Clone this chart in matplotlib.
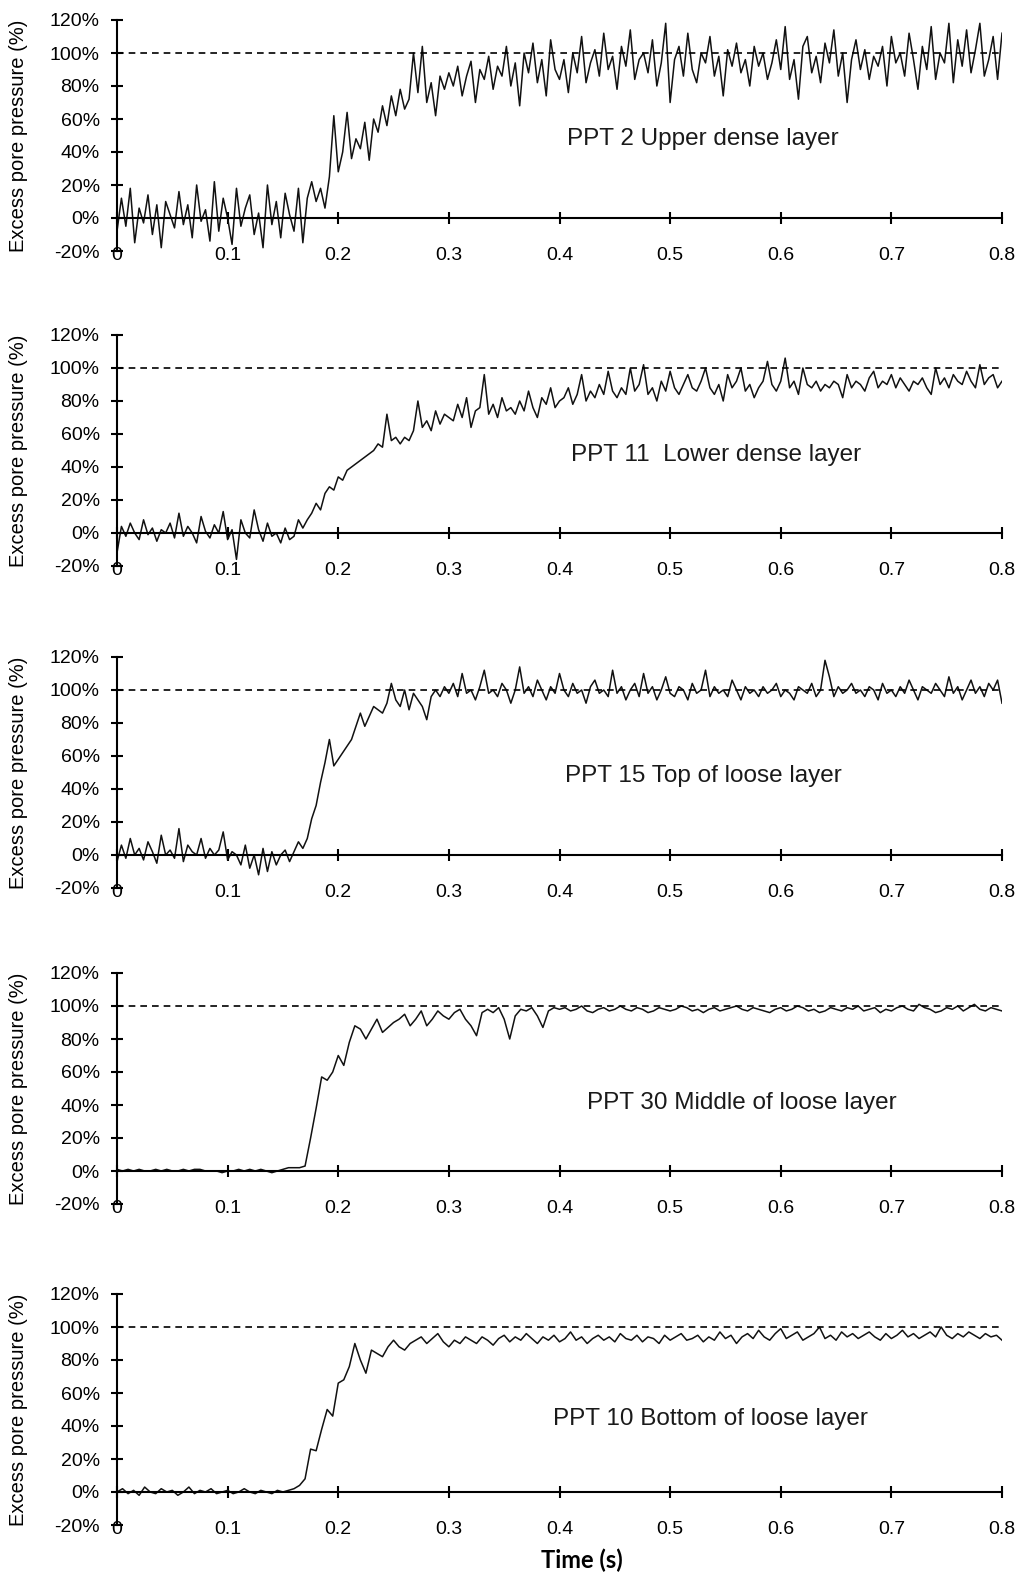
import matplotlib.pyplot as plt
import numpy as np

plt.rcParams['font.family'] = ['Liberation Sans', 'DejaVu Sans']

# sample times (s)
t_fine = np.arange(201) * 0.004
t_coarse = np.arange(161) * 0.005

# excess pore pressure (%) per transducer
ppt2 = [
    -8, 12, -5, 18, -15, 6, -3, 14, -10, 8,
    -18, 10, 2, -6, 16, -4, 8, -12, 20, -2,
    5, -14, 22, -8, 12, 0, -16, 18, -5, 6,
    14, -10, 3, -18, 20, -4, 10, -12, 15, 2,
    -8, 18, -15, 12, 22,
    10, 18, 6, 25, 62, 28, 40, 64, 36, 48,
    42, 58, 35, 60, 52, 68, 56, 74, 62, 78,
    66, 72, 100, 76, 104, 70, 82, 62, 86, 78,
    88, 80, 92, 74, 86, 95, 70, 90, 84, 98,
    78, 92, 86, 104, 80, 94, 68, 100, 88, 106,
    82, 96, 74, 108, 90, 84,
    96, 76, 100, 88, 110, 82, 94, 102, 86, 112,
    90, 98, 78, 104, 92, 114, 84, 96, 100, 88,
    108, 80, 94, 118, 70, 96, 104, 86, 112, 90,
    82, 100, 94, 110, 86, 98, 74, 102, 92, 106,
    88, 96, 80, 104, 92, 100, 84, 94, 108, 90,
    116, 84, 96, 72, 104, 110, 88, 98, 82, 106,
    94, 114, 86, 100, 70, 96, 108, 90, 102, 84,
    98, 92, 104, 80, 110, 94, 100, 86, 112, 96,
    78, 104, 90, 116, 84, 100, 94, 118, 82, 108,
    92, 114, 88, 102, 118, 86, 96, 110, 84, 112,
]

ppt11 = [
    -12, 4, -2, 6, 0, -4, 8, -1, 3, -5,
    2, 0, 6, -3, 12, -2, 4, 0, -6, 10,
    1, -3, 5, 0, 13, -4, 2, -16, 8, 0,
    -3, 14, 2, -5, 6, -2, 0, -6, 3, -4,
    -2, 8,
    3, 8, 12, 18, 14, 24, 28, 26, 34, 32,
    38, 40, 42, 44, 46, 48, 50, 54, 52, 72,
    56, 58, 54, 58, 56, 62, 80, 64, 68, 62,
    74, 66, 72, 70,
    68, 78, 70, 82, 64, 74, 76, 96, 72, 78,
    70, 82, 74, 76, 72, 80, 74, 86, 76, 70,
    82, 78, 88, 76, 80,
    82, 88, 78, 84, 96, 80, 86, 82, 90, 84,
    98, 86, 82, 88, 84, 100, 86, 90, 102, 84,
    88, 80, 92, 86, 98, 88, 84, 90, 96, 88,
    86, 92, 100, 88, 84, 90, 80, 96, 88, 92,
    100, 86, 90, 82, 88, 92, 104, 90, 86, 92,
    106, 88, 92, 84, 100, 90, 88, 92, 86, 90,
    88, 92, 90, 82, 96, 88, 92, 90, 86, 94,
    98, 88, 92, 90, 96, 88, 94, 90, 86, 92,
    90, 94, 88, 84, 100, 90, 94, 88, 96, 92,
    90, 98, 92, 88, 102, 90, 94, 96, 88, 92,
]

ppt15 = [
    -4, 6, -2, 10, 0, 4, -3, 8, 2, -5,
    12, 0, 3, -2, 16, -4, 6, 2, 0, 10,
    -2, 4, 0, 3, 14, -3, 2, 0, -6, 6,
    -8, 0, -12, 4, -10, 2, -6, 0, 3, -4,
    2, 8,
    4, 10, 22, 30, 44, 56, 70, 54, 58, 62,
    66, 70, 78, 86, 78, 84, 90, 88, 86, 92,
    104, 94, 90, 100, 88, 98, 94, 90, 82, 96,
    100, 96, 102, 98,
    104, 96, 110, 98, 100, 94, 102, 112, 98, 100,
    96, 104, 100, 92, 100, 114, 98, 102, 96, 106,
    100, 94, 102, 98, 110, 100, 96, 104, 98, 100,
    92, 102, 106, 98, 100, 96, 112, 98, 102, 94,
    100, 104, 96, 110, 98, 102, 94, 100, 108, 98,
    96, 102, 100, 94, 104, 98, 100, 112, 96, 102,
    98, 100, 96, 106, 100, 94, 102, 98, 100, 96,
    102, 98, 100, 104, 96, 100, 98, 94, 102, 100,
    98, 104, 96, 100, 118, 108, 96, 102, 98, 100,
    104, 98, 100, 96, 102, 100, 94, 104, 98, 100,
    96, 102, 98, 106, 100, 94, 102, 100, 98, 104,
    100, 96, 108, 98, 102, 94, 100, 106, 98, 102,
    96, 104, 100, 106, 92,
]

ppt30 = [
    1, 0, 1, 0, 1, 0, 0, 1, 0, 1,
    0, 0, 1, 0, 1, 1, 0, 0, 0, -1,
    0, 0, 1, 0, 1, 0, 1, 0, -1, 0,
    1, 2, 2,
    2, 3, 20, 38, 57, 55, 60, 70, 64, 78,
    88, 86, 80, 86, 92, 84, 87, 90, 92, 95,
    88, 92, 97, 88, 92, 97, 94, 92, 96, 98,
    92, 88, 82, 96, 98, 96, 99, 92, 80, 94,
    98, 97, 99, 94, 87, 97, 99, 98,
    99, 97, 98, 100, 97, 96, 98, 99, 97, 98,
    100, 98, 97, 99, 98, 96, 97, 99, 98, 97,
    98, 100, 99, 97, 98, 96, 98, 99, 97, 98,
    99, 100, 98, 97, 99, 98, 97, 96, 98, 99,
    97, 98, 100, 99, 97, 98, 96, 97, 99, 98,
    97, 99, 98, 100, 97, 98, 99, 96, 98, 97,
    99, 100, 98, 97, 101, 99, 98, 96, 97, 99,
    98, 100, 97, 99, 101, 98, 97, 99, 98, 97,
]

ppt10 = [
    0, 2, -1, 1, -2, 3, 0, -1, 2, 0,
    1, -2, 0, 3, -1, 1, 0, 2, -1, 0,
    1, -1, 0, 2, 0, -1, 1, 0, -1, 1,
    0, 1, 2,
    4, 8, 26, 25, 38, 50, 46, 66, 68, 76,
    90, 80, 72, 86, 84, 82, 88, 92, 88, 86,
    90, 92, 94, 90, 93, 96, 91, 88, 92, 90,
    94, 92,
    90, 94, 92, 89, 93, 95, 91, 94, 92, 96,
    93, 90, 94, 92, 95, 91, 93, 97, 92, 94,
    90, 93, 95, 92, 94, 91, 96, 93, 92, 95,
    91, 94, 93, 90, 95, 92, 94, 96, 92, 93,
    95, 91, 94, 92, 97, 93, 95, 90, 94, 96,
    93, 98, 94, 92, 96, 99, 93, 95, 97, 92,
    94, 96, 100, 93, 95, 92, 97, 94, 96, 93,
    95, 97, 94, 92, 96, 93, 95, 98, 94, 96,
    93, 95, 97, 94, 100, 95, 93, 96, 94, 97,
    95, 93, 96, 94, 95, 92,
]

labels = ['PPT 2 Upper dense layer', 'PPT 11  Lower dense layer',
          'PPT 15 Top of loose layer', 'PPT 30 Middle of loose layer',
          'PPT 10 Bottom of loose layer']
series = [(t_fine, ppt2), (t_fine, ppt11), (t_fine, ppt15),
          (t_coarse, ppt30), (t_coarse, ppt10)]

y_ticks = [-20, 0, 20, 40, 60, 80, 100, 120]
x_ticks = [0, 0.1, 0.2, 0.3, 0.4, 0.5, 0.6, 0.7, 0.8]
x_ticklabels = ['0', '0.1', '0.2', '0.3', '0.4', '0.5', '0.6', '0.7', '0.8']

W, H = 1021, 1584
fig = plt.figure(figsize=(W / 100, H / 100), dpi=100)

# panel tops in pixels, and where each caption sits (data coords)
tops = [20, 335, 657, 973, 1294]
panel_h = 231
label_pos = [(0.407, 48), (0.41, 47), (0.405, 48), (0.425, 41), (0.394, 44)]

for k, ((t, y), lab) in enumerate(zip(series, labels)):
    bottom = 1 - (tops[k] + panel_h) / H
    ax = fig.add_axes([117 / W, bottom, 885 / W, panel_h / H])
    ax.plot(t, y, color='#111111', lw=1.1)
    ax.plot([0, 0.8], [100, 100], color='black', lw=1.2, ls=(0, (4, 3)))

    ax.set_xlim(0, 0.8)
    ax.set_ylim(-20, 120)
    ax.spines['top'].set_visible(False)
    ax.spines['right'].set_visible(False)
    ax.spines['bottom'].set_position(('data', 0))
    ax.spines['left'].set_linewidth(1.5)
    ax.spines['bottom'].set_linewidth(1.5)

    ax.set_yticks(y_ticks)
    ax.set_yticklabels([f'{v}%' for v in y_ticks])
    ax.set_xticks(x_ticks)
    ax.set_xticklabels(x_ticklabels)
    ax.tick_params(axis='y', direction='inout', length=9, width=1.5,
                   labelsize=14, pad=8)
    ax.tick_params(axis='x', direction='inout', length=8, width=1.5,
                   labelsize=14, pad=17)

    ax.set_ylabel('Excess pore pressure (%)', fontsize=14.5)
    ax.yaxis.set_label_coords(-0.100, 0.5)
    ax.text(label_pos[k][0], label_pos[k][1], lab, fontsize=17.5,
            va='center', ha='left', color='#1a1a1a')

fig.text(582 / W, 1 - 1560 / H, 'Time (s)', fontsize=17, fontweight='bold',
         family=['Lato', 'DejaVu Sans'], ha='center', va='center')

fig.savefig('out.png', dpi=100)
